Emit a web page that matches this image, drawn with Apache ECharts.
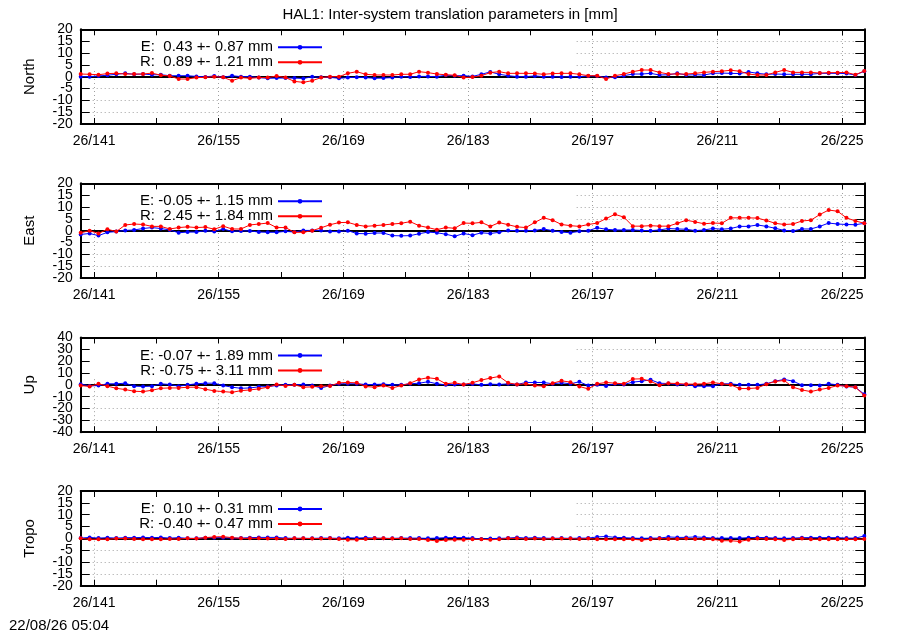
<!DOCTYPE html>
<html>
<head>
<meta charset="utf-8">
<title>HAL1 translation parameters</title>
<script src="https://cdn.jsdelivr.net/npm/echarts@6/dist/echarts.min.js"></script>
<style>
  html, body { margin: 0; padding: 0; background: #fff; }
  #main { width: 900px; height: 630px; }
</style>
</head>
<body>
<div id="main"></div>
<script>
// day of year 2026 (midday epochs)
var days = [139.5, 140.5, 141.5, 142.5, 143.5, 144.5, 145.5, 146.5, 147.5, 148.5,
  149.5, 150.5, 151.5, 152.5, 153.5, 154.5, 155.5, 156.5, 157.5, 158.5,
  159.5, 160.5, 161.5, 162.5, 163.5, 164.5, 165.5, 166.5, 167.5, 168.5,
  169.5, 170.5, 171.5, 172.5, 173.5, 174.5, 175.5, 176.5, 177.5, 178.5,
  179.5, 180.5, 181.5, 182.5, 183.5, 184.5, 185.5, 186.5, 187.5, 188.5,
  189.5, 190.5, 191.5, 192.5, 193.5, 194.5, 195.5, 196.5, 197.5, 198.5,
  199.5, 200.5, 201.5, 202.5, 203.5, 204.5, 205.5, 206.5, 207.5, 208.5,
  209.5, 210.5, 211.5, 212.5, 213.5, 214.5, 215.5, 216.5, 217.5, 218.5,
  219.5, 220.5, 221.5, 222.5, 223.5, 224.5, 225.5, 226.5, 227.5];

var tickDays = [141, 148, 155, 162, 169, 176, 183, 190, 197, 204, 211, 218, 225];
var labelDays = [141, 155, 169, 183, 197, 211, 225];

// y tick labels, split in two sets so neighbouring labels are not dropped
var yLabels20a = [-20, -10, 0, 10, 20];
var yLabels20b = [-15, -5, 5, 15];
var yLabels40a = [-40, -20, 0, 20, 40];
var yLabels40b = [-30, -10, 10, 30];

var northE = [0, 0, 0.3, 0.6, 1.0, 1.4, 1.0, 1.1, 0.8, 0.8, 0.4, 0.4, 0.4, 0.1, -0.1, 0.3, -0.3, 0.4, 0, 0,
  -0.4, -0.7, -0.6, -0.6, -0.6, -0.8, 0, -0.3, -0.3, -0.7, -0.4, -0.3, -0.4, -0.7, -0.6, -0.4, 0, -0.1, 0.1, 0.1,
  0, 0.6, 0.4, 0.4, 0.1, 1.0, 2.0, 1.0, 0.4, 0, 0, 0.3, 0, 0, -0.1, 0, 0, 0.3, 0.3, -0.4,
  -0.3, 0.4, 1.1, 1.1, 1.4, 0.7, 0.8, 1.4, 0.7, 0.8, 0.7, 1.4, 1.5, 1.4, 1.3, 2.0, 1.4, 1.0, 1.1, 1.0,
  1.0, 1.0, 1.0, 1.4, 1.4, 1.4, 1.3, 0.7, 2.3];
var northR = [1.1, 1.0, 0.8, 1.3, 1.4, 1.1, 1.1, 1.1, 1.5, 0.6, 0.3, -1.0, -1.0, -0.4, -0.3, 0, -0.3, -1.7, -0.4, -0.7,
  -0.4, -0.4, 0.3, -0.4, -2.0, -2.4, -1.7, -0.4, 0, 0, 1.4, 2.1, 1.0, 0.7, 0.7, 0.7, 1.0, 1.0, 2.1, 1.7,
  1.1, 0.8, 0.6, -0.4, -0.2, 0.4, 1.7, 2.1, 1.4, 1.4, 1.4, 1.3, 1.0, 1.3, 1.4, 1.4, 1.0, 0.4, 0.4, -1.0,
  0.4, 1.1, 2.1, 2.8, 2.8, 1.8, 1.1, 1.1, 1.1, 1.4, 1.8, 2.1, 2.3, 2.7, 2.3, 1.1, 0.7, 0.7, 1.8, 2.8,
  1.8, 1.8, 1.8, 1.5, 1.7, 1.7, 1.8, 0.8, 2.4];

var eastE = [-1.6, -1.2, -2.1, -0.7, -0.4, 0.1, 0.3, 0.9, 1.3, 0.9, 0.3, -0.9, -0.6, -0.6, 0, -0.4, 0.7, -0.3, -0.1, -0.1,
  -0.6, -0.7, -0.7, -0.3, -0.6, 0.1, 0.1, 0.1, -0.4, -0.4, 0, -1.2, -1.3, -1.0, -1.0, -2.1, -2.2, -2.1, -1.3, -0.6,
  -0.9, -1.5, -2.4, -1.2, -1.9, -0.9, -1.2, -0.7, 0.1, 0, 0, 0.1, 0.7, 0, -0.6, -0.9, -0.3, 0, 1.2, 0.6,
  0.3, 0.3, 0.3, 0.1, 0, 0.3, 0.9, 0.7, 0.6, 0, 0.3, 0.9, 0.6, 0.9, 1.8, 1.8, 2.4, 1.8, 1.0, 0.1,
  -0.1, 0.7, 0.7, 1.8, 3.2, 2.8, 2.6, 2.5, 3.1];
var eastR = [-0.9, 0, -1.2, 0.6, -0.4, 2.4, 2.8, 2.6, 1.8, 1.8, 0.7, 1.3, 1.6, 1.3, 1.5, 0.6, 1.9, 0.7, 0.7, 2.4,
  2.8, 3.2, 1.3, 1.3, -0.7, -0.7, 0, 1.2, 2.5, 3.4, 3.5, 2.4, 1.8, 2.1, 2.4, 2.8, 3.1, 3.8, 2.1, 1.3,
  0.4, 1.3, 1.0, 3.2, 3.1, 3.5, 1.8, 3.4, 2.5, 1.6, 1.3, 3.5, 5.4, 4.4, 2.6, 2.1, 1.8, 2.6, 3.2, 5.1,
  6.9, 5.7, 1.9, 1.9, 2.1, 1.9, 1.9, 3.1, 4.4, 3.7, 2.9, 3.2, 3.1, 5.4, 5.4, 5.4, 5.3, 4.3, 3.1, 2.6,
  2.8, 4.1, 4.4, 6.8, 8.7, 8.2, 5.4, 4.1, 3.1];

var upE = [0.6, -0.9, -0.6, 0.9, 0.9, 1.4, -1.1, -1.4, -1.1, 0.9, 0.3, -1.1, 0, 0.9, 1.4, 1.4, -0.6, -2.0, -2.9, -2.6,
  -1.7, -1.4, -0.6, 0, 0, 0.3, -0.6, -2.6, -0.6, 0.9, 0.9, 0.9, 0.3, 0.3, 0.6, 0, 0, 0.9, 1.4, 2.6,
  0.9, 0, 0.3, 0.3, 0.8, 0, 0.6, 0.3, 0.9, 0.3, 2.0, 2.0, 2.0, 0.9, 1.7, 0.9, 2.6, -0.6, 0, -0.9,
  0.9, 0.3, 2.3, 3.1, 4.3, 1.4, 1.1, 0.3, 0.3, -1.1, -1.1, -1.1, 0.9, 0.9, 0, 0, 0, 0.9, 3.1, 4.6,
  3.1, -0.3, -0.3, -0.6, 0.9, 0, -1.4, -2.0, -8.0];
var upR = [-0.6, -1.4, 0.9, -1.1, -2.9, -4.0, -5.4, -5.7, -4.6, -2.9, -2.6, -2.6, -2.0, -2.0, -3.7, -5.1, -5.7, -6.3, -4.9, -4.3,
  -3.4, -2.0, 0.3, -0.9, 0, -2.0, -1.7, -1.1, -0.9, 1.7, 2.0, 1.7, -1.4, -2.0, -0.6, -2.6, -0.6, 1.4, 4.6, 6.0,
  5.1, 0.9, 1.7, 0.3, 1.8, 4.0, 5.7, 7.1, 1.7, 0.3, 0.9, -0.6, -1.1, 1.4, 3.4, 2.3, -1.4, -3.4, 0.9, 2.0,
  1.4, 0.9, 4.9, 5.1, 2.9, -0.3, 1.4, 1.1, 0.6, 0.6, 0.9, 2.0, 0.9, 0, -3.1, -3.1, -2.6, 0.6, 2.9, 3.7,
  -2.0, -4.3, -5.7, -4.0, -2.6, -0.6, -1.1, -2.0, -8.9];

var tropoE = [0.1, 0.4, 0.1, 0.3, 0.1, 0.3, 0.3, 0.4, 0.3, 0.4, 0.1, 0.3, 0, 0, 0.3, 0.3, 0.3, 0.1, 0.1, 0.3,
  0.4, 0.4, 0.4, 0.1, 0, 0, 0, 0.1, 0.1, 0, 0.3, 0.1, 0.3, 0.1, 0, 0, 0.1, 0.1, 0.1, 0,
  0.1, 0.3, 0.3, 0.3, 0.1, -0.3, -0.1, 0, 0.1, 0.4, 0.1, 0.3, 0.1, 0, 0.1, 0, 0.1, 0.1, 0.6, 0.8,
  0.4, 0.3, 0.1, 0, 0.1, 0.1, 0.6, 0.4, 0.4, 0.6, 0.4, 0.1, 0.1, 0.1, 0.1, 0.3, 0.4, 0.3, 0.1, 0,
  0.1, 0.3, 0.3, 0.3, 0.3, 0.3, 0.1, 0.1, 1.0];
var tropoR = [0, -0.4, -0.4, -0.4, -0.1, -0.1, -0.3, -0.4, -0.4, -0.4, -0.3, -0.3, 0, -0.1, 0.3, 0.6, 0.7, 0.3, 0, 0,
  0, -0.1, -0.1, -0.3, 0, 0, -0.1, -0.1, 0, -0.3, -0.6, -0.6, -0.3, 0, 0, -0.1, 0, -0.3, -0.3, -0.7,
  -1.1, -0.7, -0.6, -0.6, -0.4, -0.4, -0.6, -0.4, 0, 0, -0.3, -0.1, -0.3, -0.1, -0.1, -0.1, -0.3, -0.1, -0.4, -0.4,
  -0.4, -0.4, -0.4, -0.7, -0.4, -0.1, -0.3, -0.3, -0.1, -0.3, -0.3, -0.4, -1.0, -1.0, -1.3, -0.6, -0.1, -0.3, -0.4, -0.7,
  -0.4, -0.1, -0.4, -0.4, -0.4, -0.4, -0.4, -0.4, -0.3];

var panelNames = ['North', 'East', 'Up', 'Tropo'];
var panelLimits = [20, 20, 40, 20];
var panelSteps = [5, 5, 10, 5];
var panelLabelsA = [yLabels20a, yLabels20a, yLabels40a, yLabels20a];
var panelLabelsB = [yLabels20b, yLabels20b, yLabels40b, yLabels20b];
var legendE = ['E:  0.43 +- 0.87 mm', 'E: -0.05 +- 1.15 mm', 'E: -0.07 +- 1.89 mm', 'E:  0.10 +- 0.31 mm'];
var legendR = ['R:  0.89 +- 1.21 mm', 'R:  2.45 +- 1.84 mm', 'R: -0.75 +- 3.11 mm', 'R: -0.40 +- 0.47 mm'];
var valuesE = [northE, eastE, upE, tropoE];
var valuesR = [northR, eastR, upR, tropoR];

var font = '"Liberation Sans", Arial, Helvetica, sans-serif';
var tops = [29.3, 183.3, 337.5, 491];
var gridLeft = 80.7, gridWidth = 783.6, gridHeight = 94.7;

function pairs(ys) {
  return days.map(function (d, k) { return [d, ys[k]]; });
}

var grids = [], xAxes = [], yAxes = [], series = [], legends = [], graphics = [];
var legendText = {};

panelNames.forEach(function (name, i) {
  grids.push({ left: gridLeft, top: tops[i], width: gridWidth, height: gridHeight, show: false });

  // bottom axis with labels, top axis mirrored ticks only
  xAxes.push({
    gridIndex: i, type: 'value', min: 139.5, max: 227.5, position: 'bottom', z: 3,
    axisLine: { onZero: false, lineStyle: { color: '#000', width: 2 } },
    axisTick: { inside: true, length: 6, customValues: tickDays, lineStyle: { color: '#000' } },
    axisLabel: { customValues: labelDays, color: '#000', fontSize: 14, fontFamily: font, margin: 10,
      formatter: function (v) { return '26/' + v; } },
    splitLine: { show: false }
  });
  xAxes.push({
    gridIndex: i, type: 'value', min: 139.5, max: 227.5, position: 'top', z: 3,
    axisLine: { onZero: false, lineStyle: { color: '#000', width: 2 } },
    axisTick: { inside: true, length: 6, customValues: tickDays, lineStyle: { color: '#000' } },
    axisLabel: { show: false },
    splitLine: { show: false }
  });

  var yLabelStyle = { color: '#000', fontSize: 14, fontFamily: font, margin: 8 };

  // left axis: frame, ticks, half the labels
  yAxes.push({
    gridIndex: i, type: 'value', min: -panelLimits[i], max: panelLimits[i], interval: panelSteps[i],
    position: 'left', z: 3,
    name: name, nameLocation: 'middle', nameGap: 43, nameRotate: 90,
    nameTextStyle: { color: '#000', fontSize: 15, fontFamily: font },
    axisLine: { onZero: false, lineStyle: { color: '#000', width: 2 } },
    axisTick: { inside: true, length: 9, lineStyle: { color: '#000' } },
    axisLabel: Object.assign({ customValues: panelLabelsA[i] }, yLabelStyle),
    splitLine: { show: false }
  });
  // right axis carries the dotted grid so the key box can hide it
  yAxes.push({
    gridIndex: i, type: 'value', min: -panelLimits[i], max: panelLimits[i], interval: panelSteps[i],
    position: 'right', z: 0,
    axisLine: { onZero: false, lineStyle: { color: '#000', width: 2 } },
    axisTick: { inside: true, length: 9, lineStyle: { color: '#000' } },
    axisLabel: { show: false },
    splitLine: { show: true, lineStyle: { color: '#a0a0a0', type: [1, 3], width: 1 } }
  });
  // second left axis: the other labels
  yAxes.push({
    gridIndex: i, type: 'value', min: -panelLimits[i], max: panelLimits[i], interval: panelSteps[i],
    position: 'left', offset: 0, z: 3,
    axisLine: { show: false }, axisTick: { show: false },
    axisLabel: Object.assign({ customValues: panelLabelsB[i] }, yLabelStyle),
    splitLine: { show: false }
  });

  var vLines = labelDays.map(function (d) {
    return { xAxis: d, lineStyle: { color: '#a0a0a0', type: [1, 3], width: 1 } };
  });
  vLines.push({ yAxis: 0, lineStyle: { color: '#000', type: 'solid', width: 2 } });

  series.push({
    name: 'grid' + i, type: 'line', xAxisIndex: 2 * i, yAxisIndex: 3 * i, z: 0, data: [],
    silent: true,
    markLine: { z: 0, silent: true, symbol: 'none', label: { show: false }, data: vLines }
  });

  var eName = 'E' + i, rName = 'R' + i;
  legendText[eName] = legendE[i];
  legendText[rName] = legendR[i];

  series.push({
    name: eName, type: 'line', xAxisIndex: 2 * i, yAxisIndex: 3 * i, z: 3,
    data: pairs(valuesE[i]), symbol: 'circle', symbolSize: 4,
    itemStyle: { color: '#0000ff' }, lineStyle: { color: '#0000ff', width: 1 }
  });
  series.push({
    name: rName, type: 'line', xAxisIndex: 2 * i, yAxisIndex: 3 * i, z: 4,
    data: pairs(valuesR[i]), symbol: 'circle', symbolSize: 4,
    itemStyle: { color: '#ff0000' }, lineStyle: { color: '#ff0000', width: 1 }
  });

  legends.push({
    data: [eName, rName], orient: 'vertical', left: 133, top: tops[i] + 5.5,
    align: 'right', itemWidth: 44, itemHeight: 6, itemGap: 0, selectedMode: false,
    formatter: function (n) { return '{t|' + legendText[n] + '}'; },
    textStyle: { rich: { t: { width: 135, align: 'right', color: '#000', fontSize: 15, fontFamily: font, lineHeight: 15 } } }
  });

  // opaque key box
  graphics.push({
    type: 'rect', z: 1, silent: true,
    shape: { x: gridLeft + 1.5, y: tops[i] + 1.5, width: 492, height: gridHeight / 2 - 7.5 },
    style: { fill: '#fff' }
  });
});

var myChart = echarts.init(document.getElementById('main'));
var option = {
  backgroundColor: '#fff',
  animation: false,
  title: [
    { text: 'HAL1: Inter-system translation parameters in [mm]', left: 'center', top: 2,
      textStyle: { color: '#000', fontSize: 15, fontWeight: 'normal', fontFamily: font } },
    { text: '22/08/26 05:04', left: 4, top: 613,
      textStyle: { color: '#000', fontSize: 15, fontWeight: 'normal', fontFamily: font } }
  ],
  grid: grids,
  xAxis: xAxes,
  yAxis: yAxes,
  legend: legends,
  graphic: graphics,
  series: series
};
myChart.setOption(option);
</script>
</body>
</html>
